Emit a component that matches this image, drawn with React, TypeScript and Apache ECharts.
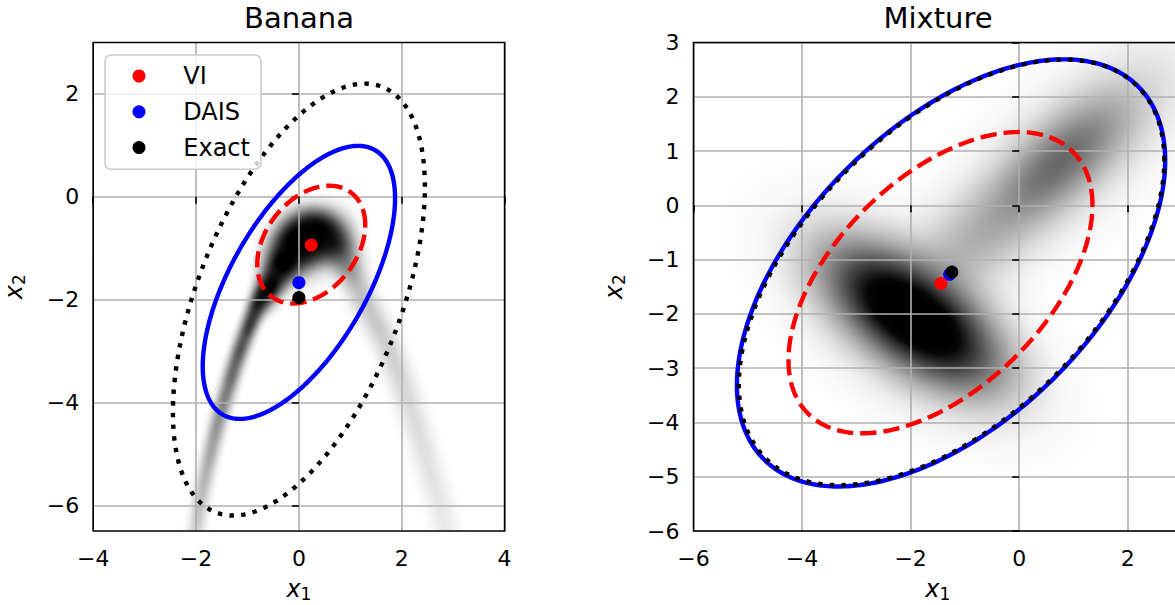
import React, { useEffect, useRef } from 'react';
import * as echarts from 'echarts';

const FONT = 'DejaVu Sans';

// ---------- data ----------
const METHOD_NAMES = ['VI', 'DAIS', 'Exact'];

// tick values
const BANANA_X_TICKS = [-4, -2, 0, 2, 4];
const BANANA_Y_TICKS = [-6, -4, -2, 0, 2];
const MIXTURE_X_TICKS = [-6, -4, -2, 0, 2];
const MIXTURE_Y_TICKS = [-6, -5, -4, -3, -2, -1, 0, 1, 2, 3];

// means (x1, x2) for VI, DAIS, Exact
const BANANA_VI_MEAN = [0.24, -0.94];
const BANANA_DAIS_MEAN = [0.0, -1.67];
const BANANA_EXACT_MEAN = [0.0, -1.96];
const MIXTURE_VI_MEAN = [-1.44, -1.44];
const MIXTURE_DAIS_MEAN = [-1.28, -1.27];
const MIXTURE_EXACT_MEAN = [-1.24, -1.23];

// covariance ellipses: [centre x1, centre x2, half-width, half-height, x-offset of top point]
const BANANA_VI_ELLIPSE = [0.24, -0.93, 1.05, 1.145, 0.35];
const BANANA_DAIS_ELLIPSE = [0.0, -1.665, 1.87, 2.655, 1.15];
const BANANA_EXACT_ELLIPSE = [0.0, -2.0, 2.45, 4.2, 1.28];
const MIXTURE_VI_ELLIPSE = [-1.45, -1.425, 2.8, 2.775, 1.44];
const MIXTURE_DAIS_ELLIPSE = [-1.255, -1.245, 3.945, 3.935, 2.075];
const MIXTURE_EXACT_ELLIPSE = [-1.245, -1.235, 3.92, 3.92, 2.07];

// density blobs: [x1, x2, sigma along, sigma across, angle (deg), darkness]
const BANANA_DENSITY = [
  [0.2, -0.95, 0.45, 0.33, 35, 0.75],
  [-0.55, -1.75, 0.32, 0.16, 62, 1.05],
  [-0.28, -1.25, 0.32, 0.22, 58, 1.2],
  [0.0, -0.85, 0.32, 0.27, 40, 1.3],
  [0.32, -0.7, 0.32, 0.27, 0, 1.2],
  [0.66, -0.88, 0.32, 0.23, -40, 0.75],
  [0.95, -1.38, 0.32, 0.19, -58, 0.38],
  [-0.76, -2.0, 0.3, 0.11, 68, 0.85],
  [-0.96, -2.5, 0.3, 0.11, 69, 0.7],
  [-1.15, -3.0, 0.3, 0.11, 71, 0.58],
  [-1.31, -3.5, 0.3, 0.11, 73, 0.48],
  [-1.46, -4.0, 0.3, 0.11, 74, 0.4],
  [-1.6, -4.5, 0.3, 0.11, 75, 0.33],
  [-1.72, -5.0, 0.3, 0.11, 76, 0.27],
  [-1.83, -5.5, 0.3, 0.11, 77, 0.22],
  [-1.93, -6.0, 0.3, 0.11, 78, 0.18],
  [-2.0, -6.5, 0.3, 0.11, 78, 0.15],
  [1.25, -2.0, 0.3, 0.18, -62, 0.2],
  [1.52, -2.5, 0.3, 0.18, -63, 0.17],
  [1.77, -3.0, 0.3, 0.18, -66, 0.15],
  [1.96, -3.5, 0.3, 0.18, -69, 0.13],
  [2.13, -4.0, 0.3, 0.18, -71, 0.11],
  [2.3, -4.5, 0.3, 0.18, -72, 0.1],
  [2.45, -5.0, 0.3, 0.18, -73, 0.09],
  [2.6, -5.5, 0.3, 0.18, -73, 0.08],
  [2.75, -6.0, 0.3, 0.18, -74, 0.07],
  [2.85, -6.5, 0.3, 0.18, -74, 0.06],
];
const MIXTURE_DENSITY = [
  [-2.0, -2.1, 1.5, 0.78, -37, 0.36],
  [-0.9, -0.7, 0.9, 0.55, 40, 0.2],
  [1.0, 1.0, 1.8, 0.75, 42, 0.18],
  [0.75, 0.8, 1.1, 0.45, 42, 0.5],
  [-1.95, -2.05, 1.1, 0.52, -36, 1.45],
];

// ---------- drawing helpers ----------
const COLORS = ['#ff0000', '#0000ff', '#000000'];
const DASHES: (number[] | null)[] = [[16.3, 7], null, [4.4, 7.3]];
const LW = 4.4;
const TICK_FONT = 22;

const STOP_T = Array.from({ length: 21 }, (_, i) => i / 20);
function blobStops(a: number) {
  const e = Math.exp(-4.5);
  return STOP_T.map((t) => {
    const g = (Math.exp(-4.5 * t * t) - e) / (1 - e);
    return { offset: t, color: `rgba(0,0,0,${Math.min(1, a * g).toFixed(4)})` };
  });
}

function renderBlob(params: any, api: any) {
  const c = api.coord([api.value(0), api.value(1)]);
  const ux = api.size([1, 0])[0];
  const uy = api.size([0, 1])[1];
  const R = 100;
  return {
    type: 'circle',
    x: c[0],
    y: c[1],
    rotation: (api.value(4) * Math.PI) / 180,
    scaleX: (3 * api.value(2) * ux) / R,
    scaleY: (3 * api.value(3) * uy) / R,
    shape: { cx: 0, cy: 0, r: R },
    style: { fill: new echarts.graphic.RadialGradient(0.5, 0.5, 0.5, blobStops(api.value(5))) },
  };
}

function makeEllipseRender(color: string, dash: number[] | null) {
  return (params: any, api: any) => {
    const cx = api.value(0), cy = api.value(1), w = api.value(2), h = api.value(3), d = api.value(4);
    const l21 = (d * h) / w;
    const l22 = Math.sqrt(Math.max(h * h - l21 * l21, 1e-6));
    const points: number[][] = [];
    const N = 360;
    for (let i = 0; i <= N; i++) {
      const t = (2 * Math.PI * i) / N;
      points.push(api.coord([cx + w * Math.cos(t), cy + l21 * Math.cos(t) + l22 * Math.sin(t)]));
    }
    return {
      type: 'polyline',
      shape: { points },
      style: { stroke: color, lineWidth: LW, fill: 'none', lineDash: dash, lineCap: 'butt', lineJoin: 'round' },
    };
  };
}

const fmt = (v: number) => String(v).replace('-', '\u2212');

const NAME_RICH = {
  i: { fontSize: 24, fontStyle: 'italic', fontFamily: FONT, color: '#000' },
  s: { fontSize: 17, fontFamily: FONT, color: '#000', padding: [10, 0, 0, 0] },
};

function xAxisFor(gridIndex: number, min: number, max: number, ticks: number[]) {
  return {
    type: 'value', gridIndex, min, max, interval: 2, z: 3,
    name: '{i|x}{s|1}', nameLocation: 'middle', nameGap: 44, nameMoveOverlap: false,
    nameTextStyle: { rich: NAME_RICH },
    axisLine: { show: false },
    axisTick: { show: true, length: 7, lineStyle: { color: '#000', width: 1.6 }, customValues: ticks },
    axisLabel: { show: true, margin: 16, fontSize: TICK_FONT, fontFamily: FONT, color: '#000', formatter: fmt, customValues: ticks },
    splitLine: { show: true, lineStyle: { color: '#b0b0b0', width: 1.6 } },
  };
}
function yAxisFor(gridIndex: number, min: number, max: number, ticks: number[], extra: any) {
  return {
    type: 'value', gridIndex, min, max, z: 3, ...extra,
    name: '{i|x}{s|2}', nameLocation: 'middle', nameGap: 66, nameRotate: 90, nameMoveOverlap: false,
    nameTextStyle: { rich: NAME_RICH },
    axisLine: { show: false },
    axisTick: { show: true, length: 7, lineStyle: { color: '#000', width: 1.6 }, customValues: ticks },
    axisLabel: { show: true, margin: 14, fontSize: TICK_FONT, fontFamily: FONT, color: '#000', formatter: fmt, customValues: ticks },
    splitLine: { show: true, lineStyle: { color: '#b0b0b0', width: 1.6 } },
  };
}

function panelSeries(idx: number, density: number[][], ellipses: number[][], means: number[][]) {
  const s: any[] = [];
  s.push({
    type: 'custom', name: 'density ' + idx, xAxisIndex: idx, yAxisIndex: idx, clip: true, z: 1,
    renderItem: renderBlob, data: density, encode: { x: 0, y: 1 }, silent: true,
  });
  ellipses.forEach((e, k) => {
    s.push({
      type: 'custom', name: METHOD_NAMES[k] + ' ellipse ' + idx, xAxisIndex: idx, yAxisIndex: idx, clip: true, z: 5,
      renderItem: makeEllipseRender(COLORS[k], DASHES[k]), data: [e], encode: { x: 0, y: 1 }, silent: true,
    });
  });
  means.forEach((m, k) => {
    s.push({
      type: 'scatter', name: METHOD_NAMES[k], xAxisIndex: idx, yAxisIndex: idx, z: 6,
      symbol: 'circle', symbolSize: 13, itemStyle: { color: COLORS[k], opacity: 1 }, data: [m], silent: true,
    });
  });
  return s;
}

export default function App() {
  const ref = useRef<HTMLDivElement>(null);
  useEffect(() => {
    if (!ref.current) return;
    const chart = echarts.init(ref.current, null, { renderer: 'svg' });
    const option: any = {
      animation: false,
      textStyle: { fontFamily: FONT, color: '#000' },
      title: [
        { text: 'Banana', left: 299, top: 3, padding: 0, textAlign: 'center', textStyle: { fontSize: 29, fontWeight: 'normal', fontFamily: FONT, color: '#000' } },
        { text: 'Mixture', left: 938, top: 3, padding: 0, textAlign: 'center', textStyle: { fontSize: 29, fontWeight: 'normal', fontFamily: FONT, color: '#000' } },
      ],
      legend: {
        data: METHOD_NAMES, orient: 'vertical', left: 105, top: 55, selectedMode: false,
        icon: 'circle', itemWidth: 13, itemHeight: 13, itemGap: 11.8,
        padding: [9, 11, 9.6, 27.5],
        backgroundColor: 'rgba(255,255,255,0.8)', borderColor: '#cccccc', borderWidth: 1.6, borderRadius: 6,
        textStyle: { fontSize: 24, fontFamily: FONT, color: '#000', padding: [0, 0, 0, 32.8] },
        z: 10,
      },
      grid: [
        { left: 93.2, top: 42.5, width: 411.4, height: 488.5, show: true, borderColor: '#000', borderWidth: 1.6, backgroundColor: 'rgba(0,0,0,0)', z: 4, outerBoundsMode: 'none', containLabel: false },
        { left: 693.5, top: 42.5, width: 488.5, height: 488.5, show: true, borderColor: '#000', borderWidth: 1.6, backgroundColor: 'rgba(0,0,0,0)', z: 4, outerBoundsMode: 'none', containLabel: false },
      ],
      xAxis: [xAxisFor(0, -4, 4, BANANA_X_TICKS), xAxisFor(1, -6, 3, MIXTURE_X_TICKS)],
      yAxis: [
        yAxisFor(0, -6.5, 3, BANANA_Y_TICKS, { minInterval: 2, maxInterval: 2 }),
        yAxisFor(1, -6, 3, MIXTURE_Y_TICKS, { interval: 1 }),
      ],
      series: [
        ...panelSeries(0, BANANA_DENSITY, [BANANA_VI_ELLIPSE, BANANA_DAIS_ELLIPSE, BANANA_EXACT_ELLIPSE], [BANANA_VI_MEAN, BANANA_DAIS_MEAN, BANANA_EXACT_MEAN]),
        ...panelSeries(1, MIXTURE_DENSITY, [MIXTURE_VI_ELLIPSE, MIXTURE_DAIS_ELLIPSE, MIXTURE_EXACT_ELLIPSE], [MIXTURE_VI_MEAN, MIXTURE_DAIS_MEAN, MIXTURE_EXACT_MEAN]),
      ],
    };
    chart.setOption(option);
    return () => chart.dispose();
  }, []);
  return (
    <div style={{ position: 'absolute', left: 0, top: 0, width: 1175, height: 605, overflow: 'hidden', background: '#fff' }}>
      <div ref={ref} style={{ width: 1200, height: 605 }} />
    </div>
  );
}
